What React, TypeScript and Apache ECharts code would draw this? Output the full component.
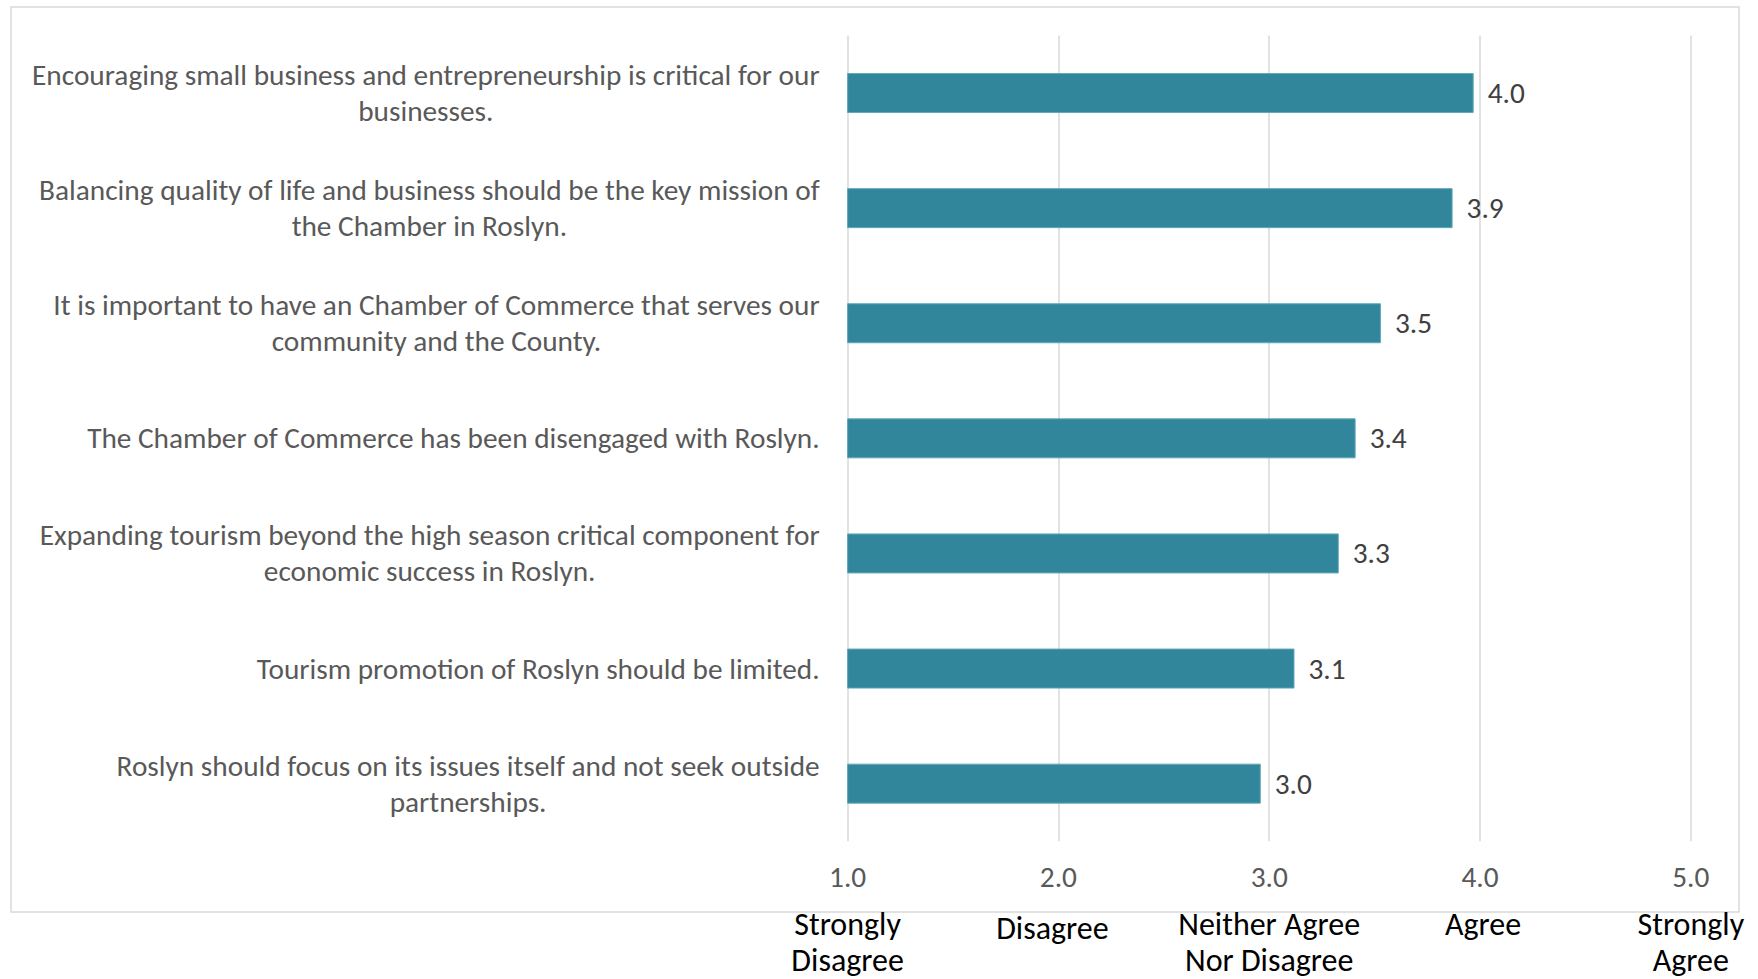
import React, { useEffect, useRef } from "react";
import * as echarts from "echarts";

const categories = [
  "Encouraging small business and entrepreneurship is critical for our businesses.",
  "Balancing quality of life and business should be the key mission of the Chamber in Roslyn.",
  "It is important to have an Chamber of Commerce that serves our community and the County.",
  "The Chamber of Commerce has been disengaged with Roslyn.",
  "Expanding tourism beyond the high season critical component for economic success in Roslyn.",
  "Tourism promotion of Roslyn should be limited.",
  "Roslyn should focus on its issues itself and not seek outside partnerships.",
];
const values = [3.97, 3.87, 3.53, 3.41, 3.33, 3.12, 2.96];
const scaleTicks = [1, 2, 3, 4, 5];
const scaleNames = [
  "Strongly\nDisagree",
  "Disagree",
  "Neither Agree\nNor Disagree",
  "Agree",
  "Strongly\nAgree",
];

const FONT = "Calibri, Carlito, 'Open Sans', sans-serif";

function wrap(s: string, max: number): string[] {
  const words = s.split(" ");
  const lines: string[] = [];
  let cur = "";
  for (const w of words) {
    if (cur && (cur + " " + w).length > max) {
      lines.push(cur);
      cur = w;
    } else {
      cur = cur ? cur + " " + w : w;
    }
  }
  if (cur) lines.push(cur);
  return lines;
}

export default function App() {
  const ref = useRef<HTMLDivElement>(null);
  useEffect(() => {
    if (!ref.current) return;
    const chart = echarts.init(ref.current, undefined, { renderer: "svg" });
    const gridLeft = 847.6;
    const gridRight = 1758 - 1690.8;
    const gridTop = 35.5;
    const gridBottom = 979 - 841.2;
    const bottomStyle = { fontFamily: FONT, fontSize: 32, lineHeight: 36, color: "#000000" };
    chart.setOption({
      animation: false,
      backgroundColor: "#ffffff",
      graphic: [
        {
          type: "rect",
          z: -10,
          shape: { x: 11, y: 7, width: 1728, height: 905 },
          style: { fill: "none", stroke: "#d9d9d9", lineWidth: 1.5 },
        },
      ],
      grid: {
        left: gridLeft,
        right: gridRight,
        top: gridTop,
        bottom: gridBottom,
        containLabel: false,
        outerBoundsMode: "none",
      },
      xAxis: [
        {
          type: "value",
          min: 1,
          max: 5,
          interval: 1,
          position: "bottom",
          axisLine: { show: false },
          axisTick: { show: false },
          splitLine: { show: true, lineStyle: { color: "#d9d9d9", width: 1.5 } },
          axisLabel: {
            margin: 21,
            color: "#595959",
            fontFamily: FONT,
            fontSize: 29.3,
            formatter: (v: number) => v.toFixed(1),
          },
        },
        {
          type: "value",
          min: 1,
          max: 5,
          interval: 1,
          position: "bottom",
          offset: 60,
          axisLine: { show: false },
          axisTick: { show: false },
          splitLine: { show: false },
          axisLabel: {
            margin: 4.8,
            color: "#000000",
            fontFamily: FONT,
            fontSize: 32,
            lineHeight: 36,
            verticalAlign: "top",
            formatter: (v: number) => {
              const i = scaleTicks.indexOf(v);
              if (i < 0) return "";
              const name = scaleNames[i];
              if (i === 1) return "{dis|" + name + "}";
              if (i === 3) return "{agr|" + name + "}";
              return name;
            },
            rich: {
              dis: { ...bottomStyle, padding: [8, 12, 0, 0] },
              agr: { ...bottomStyle, padding: [0, 0, 0, 6] },
            },
          },
        },
      ],
      yAxis: {
        type: "category",
        inverse: true,
        data: categories,
        axisLine: { show: false },
        axisTick: { show: false },
        splitLine: { show: false },
        axisLabel: {
          margin: 28,
          color: "#595959",
          fontFamily: FONT,
          fontSize: 29.3,
          formatter: (v: string) =>
            wrap(v, 67)
              .map((l) => "{c|" + l + "}")
              .join("\n"),
          rich: {
            c: {
              align: "center",
              color: "#595959",
              fontFamily: FONT,
              fontSize: 29.3,
              lineHeight: 36,
            },
          },
        },
      },
      series: [
        {
          type: "bar",
          xAxisIndex: 0,
          data: values,
          barWidth: 40,
          clip: true,
          itemStyle: { color: "#31869B", borderColor: "#5fa8bb", borderWidth: 1 },
          label: {
            show: true,
            position: "right",
            distance: 14,
            color: "#404040",
            fontFamily: FONT,
            fontSize: 29.3,
            formatter: (p: any) => Number(p.value).toFixed(1),
          },
        },
      ],
    });
    return () => chart.dispose();
  }, []);
  return (
    <div
      ref={ref}
      style={{ position: "fixed", left: 0, top: 0, width: 1758, height: 979 }}
    />
  );
}
